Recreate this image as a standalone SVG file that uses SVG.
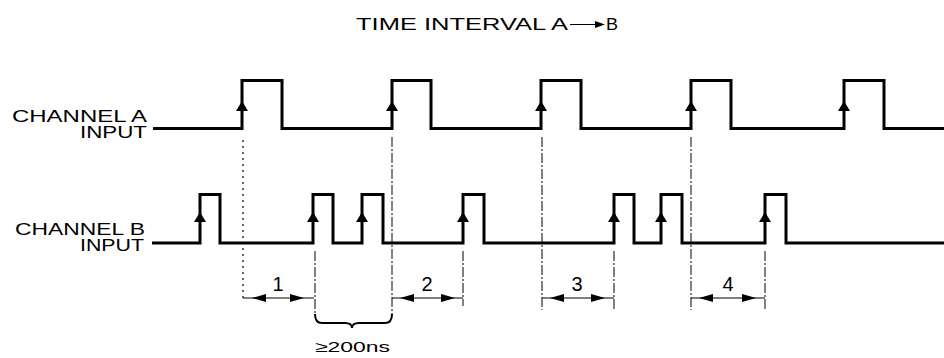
<svg xmlns="http://www.w3.org/2000/svg" width="944" height="358" viewBox="0 0 944 358">
<style>
  .sig{fill:none;stroke:#000;stroke-width:3;stroke-linejoin:miter}
  .ext{fill:none;stroke:#000;stroke-width:1;stroke-dasharray:10 2 2 2}
  .dot{fill:none;stroke:#000;stroke-width:1.2;stroke-dasharray:2 4}
  .dim{fill:none;stroke:#000;stroke-width:1}
  .brace{fill:none;stroke:#000;stroke-width:2}
  .ah{fill:#000}
  text{font-family:"Liberation Sans","DejaVu Sans",sans-serif;fill:#000}
  .lbl{font-size:16px}
  .num{font-size:20px}
</style>
<defs>
  <path id="up" d="M0,0 L-6,10 L6,10 Z"/>
  <path id="lt" d="M0,0 L14,-4 L14,4 Z"/>
  <path id="rt" d="M0,0 L-14,-4 L-14,4 Z"/>
</defs>

<g id="title">
  <text class="lbl" x="356" y="30" textLength="212" lengthAdjust="spacingAndGlyphs">TIME INTERVAL A</text>
  <line class="dim" x1="570" y1="24.5" x2="598" y2="24.5" stroke-width="1.3"/>
  <path class="ah" d="M605,24.5 L595,21 L595,28 Z"/>
  <text class="lbl" x="606" y="30" textLength="12" lengthAdjust="spacingAndGlyphs">B</text>
</g>

<g id="channel-a">
  <text class="lbl" x="12" y="122" textLength="135" lengthAdjust="spacingAndGlyphs">CHANNEL A</text>
  <text class="lbl" x="80" y="138" textLength="67" lengthAdjust="spacingAndGlyphs">INPUT</text>
  <path class="sig" d="M153,128.5 H242 V80.5 H282 V128.5 H392 V80.5 H431 V128.5 H541 V80.5 H581 V128.5 H691 V80.5 H731 V128.5 H844 V80.5 H884 V128.5 H944"/>
  <use href="#up" class="ah" x="242" y="101"/>
  <use href="#up" class="ah" x="392" y="101"/>
  <use href="#up" class="ah" x="541" y="101"/>
  <use href="#up" class="ah" x="691" y="101"/>
  <use href="#up" class="ah" x="844" y="101"/>
</g>

<g id="channel-b">
  <text class="lbl" x="15" y="235" textLength="130" lengthAdjust="spacingAndGlyphs">CHANNEL B</text>
  <text class="lbl" x="80" y="251" textLength="64" lengthAdjust="spacingAndGlyphs">INPUT</text>
  <path class="sig" d="M152,243 H200 V194.5 H220 V243 H313 V194.5 H333 V243 H362 V194.5 H383 V243 H463 V194.5 H484 V243 H614 V194.5 H634 V243 H661 V194.5 H682 V243 H765 V194.5 H786 V243 H944"/>
  <use href="#up" class="ah" x="200" y="212"/>
  <use href="#up" class="ah" x="313" y="212"/>
  <use href="#up" class="ah" x="362" y="212"/>
  <use href="#up" class="ah" x="463" y="212"/>
  <use href="#up" class="ah" x="614" y="212"/>
  <use href="#up" class="ah" x="661" y="212"/>
  <use href="#up" class="ah" x="765" y="212"/>
</g>

<g id="connectors">
  <line class="dot" x1="243" y1="140" x2="243" y2="302"/>
  <line class="ext" x1="392" y1="137" x2="392" y2="315"/>
  <line class="ext" x1="315" y1="251" x2="315" y2="315"/>
  <line class="ext" x1="463" y1="251" x2="463" y2="306"/>
  <line class="ext" x1="542" y1="137" x2="542" y2="310"/>
  <line class="ext" x1="614" y1="251" x2="614" y2="310"/>
  <line class="ext" x1="691" y1="137" x2="691" y2="310"/>
  <line class="ext" x1="765" y1="251" x2="765" y2="310"/>

  <g id="interval-1">
    <line class="dim" x1="243" y1="298" x2="314" y2="298"/>
    <use href="#lt" class="ah" x="252" y="298"/>
    <use href="#rt" class="ah" x="304" y="298"/>
  </g>
  <g id="interval-2">
    <line class="dim" x1="392" y1="298" x2="463" y2="298"/>
    <use href="#lt" class="ah" x="400" y="298"/>
    <use href="#rt" class="ah" x="455" y="298"/>
  </g>
  <g id="interval-3">
    <line class="dim" x1="542" y1="298" x2="614" y2="298"/>
    <use href="#lt" class="ah" x="550" y="298"/>
    <use href="#rt" class="ah" x="605" y="298"/>
  </g>
  <g id="interval-4">
    <line class="dim" x1="691" y1="298" x2="765" y2="298"/>
    <use href="#lt" class="ah" x="699" y="298"/>
    <use href="#rt" class="ah" x="756" y="298"/>
  </g>

  <path class="brace" d="M315,314 Q315,323 322,323 L345,323 Q352,323 352,328 Q352,323 359,323 L385,323 Q392,323 392,314"/>
</g>

<g id="labels">
  <text class="num" x="278" y="291" text-anchor="middle">1</text>
  <text class="num" x="427" y="291" text-anchor="middle">2</text>
  <text class="num" x="577" y="291" text-anchor="middle">3</text>
  <text class="num" x="728" y="291" text-anchor="middle">4</text>
  <text x="315" y="352" font-size="15" textLength="75" lengthAdjust="spacingAndGlyphs">≥200ns</text>
</g>
</svg>
